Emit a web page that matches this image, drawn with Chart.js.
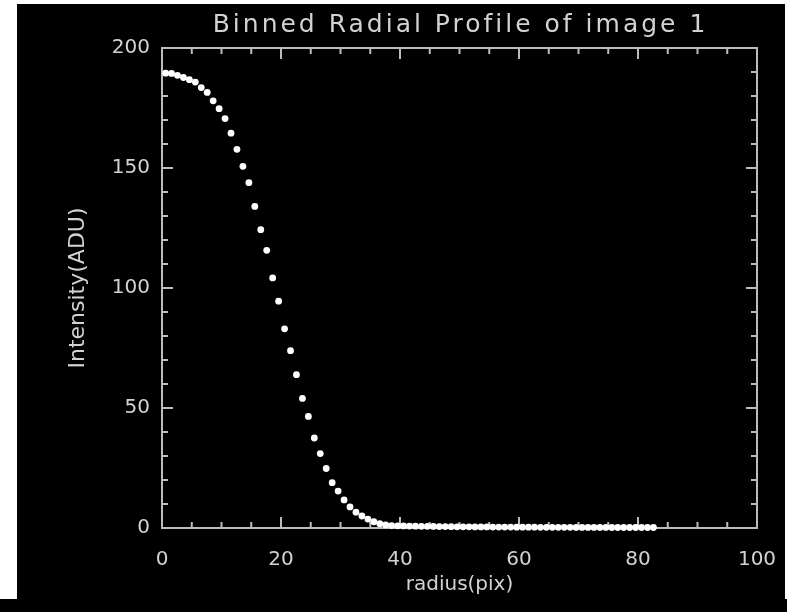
<!DOCTYPE html>
<html>
<head>
<meta charset="utf-8">
<script src="https://cdn.jsdelivr.net/npm/chart.js@4.4.1/dist/chart.umd.min.js"></script>
<style>
  html, body { margin:0; padding:0; background:#000; width:787px; height:612px; overflow:hidden; }
  .strip { position:absolute; background:#fff; }
  #wrap { position:absolute; left:0; top:0; width:787px; height:612px; }
</style>
</head>
<body>
<div class="strip" style="left:0;top:0;width:17px;height:599px"></div>
<div class="strip" style="left:0;top:0;width:787px;height:4px"></div>
<div class="strip" style="left:785px;top:0;width:2px;height:599px"></div>
<div id="wrap"><canvas id="c" width="787" height="612"></canvas></div>
<script>
// radial profile, one bin per pixel
const radius = [
  0.6, 1.6, 2.6, 3.6, 4.6, 5.6, 6.6, 7.6, 8.6, 9.6,
  10.6, 11.6, 12.6, 13.6, 14.6, 15.6, 16.6, 17.6, 18.6, 19.6,
  20.6, 21.6, 22.6, 23.6, 24.6, 25.6, 26.6, 27.6, 28.6, 29.6,
  30.6, 31.6, 32.6, 33.6, 34.6, 35.6, 36.6, 37.6, 38.6, 39.6,
  40.6, 41.6, 42.6, 43.6, 44.6, 45.6, 46.6, 47.6, 48.6, 49.6,
  50.6, 51.6, 52.6, 53.6, 54.6, 55.6, 56.6, 57.6, 58.6, 59.6,
  60.6, 61.6, 62.6, 63.6, 64.6, 65.6, 66.6, 67.6, 68.6, 69.6,
  70.6, 71.6, 72.6, 73.6, 74.6, 75.6, 76.6, 77.6, 78.6, 79.6,
  80.6, 81.6, 82.6
];
const intensity = [
  189.5, 189.4, 188.6, 187.7, 186.8, 185.8, 183.5, 181.5, 178.0, 174.7,
  170.6, 164.5, 157.8, 150.7, 143.9, 134.0, 124.3, 115.7, 104.2, 94.5,
  83.0, 73.9, 63.9, 54.0, 46.5, 37.5, 31.0, 24.8, 18.9, 15.4,
  11.7, 8.8, 6.6, 5.0, 3.7, 2.6, 1.8, 1.3, 1.0, 0.9,
  0.85, 0.8, 0.75, 0.7, 0.7, 0.65, 0.6, 0.6, 0.55, 0.5,
  0.5, 0.5, 0.45, 0.45, 0.45, 0.4, 0.4, 0.4, 0.4, 0.35,
  0.35, 0.35, 0.35, 0.3, 0.3, 0.3, 0.3, 0.3, 0.3, 0.25,
  0.25, 0.25, 0.25, 0.25, 0.25, 0.2, 0.2, 0.2, 0.2, 0.2,
  0.2, 0.2, 0.2
];
const xTicks = [0, 20, 40, 60, 80, 100];
const yTicks = [0, 50, 100, 150, 200];
const titleText = 'Binned Radial Profile of image 1';

const axisCol = '#bcbcbc';
const textCol = '#d2d2d2';
const fam = '"DejaVu Sans", sans-serif';

// IDL style box with inward ticks on all four sides
const innerTicks = {
  id: 'innerTicks',
  beforeDatasetsDraw(chart) {
    const {ctx, chartArea: a, scales: {x, y}} = chart;
    ctx.save();
    ctx.strokeStyle = axisCol;
    ctx.lineWidth = 2;
    ctx.strokeRect(a.left, a.top, a.right - a.left, a.bottom - a.top);
    ctx.beginPath();
    for (let v = 0; v <= 100; v += 5) {
      const px = x.getPixelForValue(v);
      const len = v % 20 === 0 ? 11 : 6;
      ctx.moveTo(px, a.bottom); ctx.lineTo(px, a.bottom - len);
      ctx.moveTo(px, a.top); ctx.lineTo(px, a.top + len);
    }
    for (let v = 0; v <= 200; v += 10) {
      const py = y.getPixelForValue(v);
      const len = v % 50 === 0 ? 11 : 6;
      ctx.moveTo(a.left, py); ctx.lineTo(a.left + len, py);
      ctx.moveTo(a.right, py); ctx.lineTo(a.right - len, py);
    }
    ctx.stroke();
    ctx.restore();
  },
  // title centred over the plot box, not the canvas
  afterDraw(chart) {
    const {ctx, chartArea: a} = chart;
    ctx.save();
    ctx.fillStyle = textCol;
    ctx.font = '25px ' + fam;
    ctx.letterSpacing = '3px';
    ctx.textAlign = 'center';
    ctx.textBaseline = 'middle';
    ctx.fillText(titleText, (a.left + a.right) / 2 + 1, 25);
    ctx.restore();
  }
};

const ctx = document.getElementById('c').getContext('2d');
new Chart(ctx, {
  type: 'scatter',
  data: {
    datasets: [{
      data: radius.map((r, i) => ({x: r, y: intensity[i]})),
      backgroundColor: '#ffffff',
      borderWidth: 0,
      pointRadius: 3.4,
      pointHoverRadius: 3.4,
      clip: false
    }]
  },
  options: {
    responsive: false,
    animation: false,
    devicePixelRatio: 1,
    layout: { padding: { top: 48, right: 30, bottom: 0, left: 0 } },
    plugins: {
      legend: { display: false },
      tooltip: { enabled: false },
      title: { display: false }
    },
    scales: {
      x: {
        type: 'linear', min: 0, max: 100,
        afterBuildTicks: s => { s.ticks = xTicks.map(v => ({value: v})); },
        afterFit: s => { s.height = 84; s.paddingLeft = 0; s.paddingRight = 0; },
        grid: { display: false, drawTicks: false },
        border: { display: false },
        ticks: { color: textCol, font: { family: fam, size: 20 }, padding: 20, maxRotation: 0 },
        title: { display: true, text: 'radius(pix)', color: textCol,
                 font: { family: fam, size: 20 }, padding: { top: 0, bottom: 15 } }
      },
      y: {
        type: 'linear', min: 0, max: 200,
        afterBuildTicks: s => { s.ticks = yTicks.map(v => ({value: v})); },
        afterFit: s => { s.width = 162; s.paddingTop = 0; s.paddingBottom = 0; },
        grid: { display: false, drawTicks: false },
        border: { display: false },
        ticks: { color: textCol, font: { family: fam, size: 20 }, padding: 12 },
        title: { display: true, text: 'Intensity(ADU)', color: textCol,
                 font: { family: fam, size: 22 }, padding: { top: 65, bottom: 0 } }
      }
    }
  },
  plugins: [innerTicks]
});
</script>
</body>
</html>
